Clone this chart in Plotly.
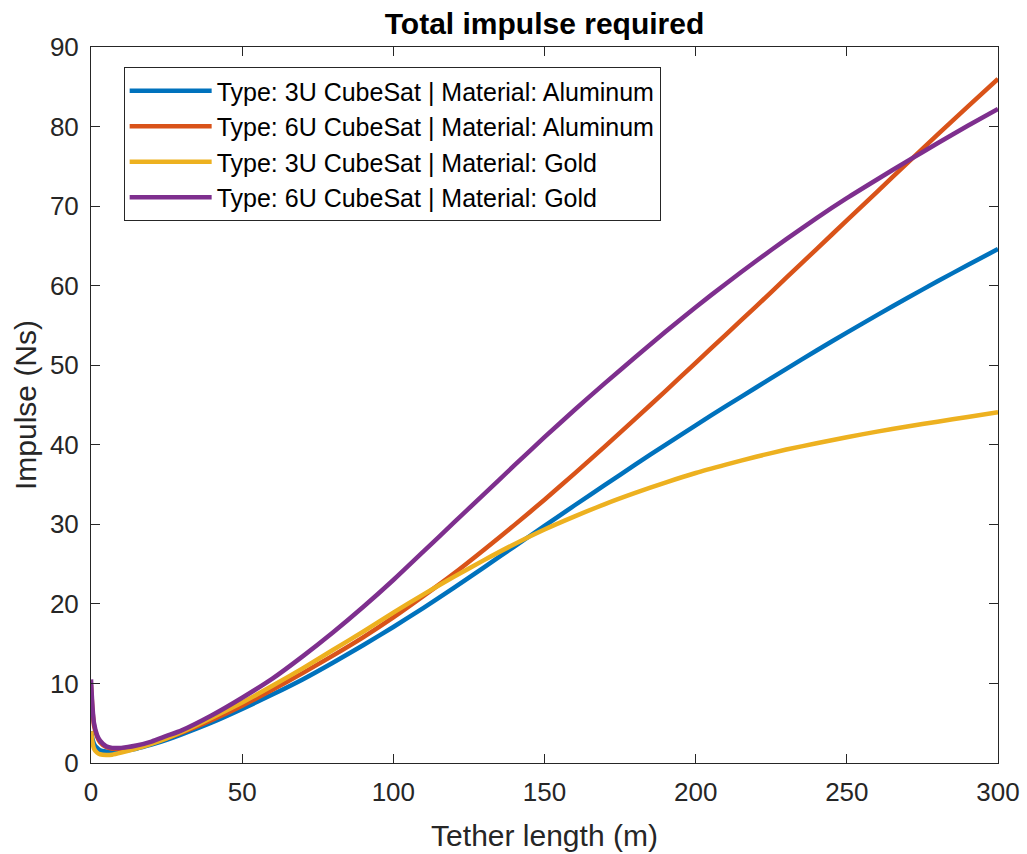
import plotly.graph_objects as go

tether_length = [0, 0.5, 1, 2, 3, 5, 7, 10, 15, 20, 25, 30, 40, 50, 60, 70, 80, 90, 100,
                 110, 120, 130, 140, 150, 160, 170, 180, 190, 200, 210, 220, 230, 240,
                 250, 260, 270, 280, 290, 300]

impulse_3u_al = [4.0, 3.0, 2.4, 1.9, 1.6, 1.45, 1.4, 1.5, 1.8, 2.3, 2.9, 3.6, 5.1, 6.8, 8.6,
                 10.5, 12.6, 14.8, 17.1, 19.5, 22.0, 24.6, 27.2, 29.8, 32.4, 34.95, 37.5,
                 40.0, 42.45, 44.85, 47.2, 49.55, 51.85, 54.1, 56.3, 58.45, 60.55, 62.6, 64.6]

impulse_6u_al = [9.8, 6.6, 4.7, 3.3, 2.6, 2.0, 1.8, 1.8, 2.0, 2.5, 3.1, 3.8, 5.4, 7.2, 9.2,
                 11.3, 13.5, 15.8, 18.3, 21.0, 23.8, 26.8, 29.9, 33.1, 36.4, 39.8, 43.25,
                 46.75, 50.3, 53.85, 57.4, 61.0, 64.6, 68.2, 71.8, 75.4, 79.0, 82.5, 86.0]

impulse_3u_au = [4.0, 2.6, 1.8, 1.3, 1.1, 1.0, 1.05, 1.3, 1.8, 2.4, 3.1, 3.9, 5.7, 7.6, 9.7,
                 11.9, 14.2, 16.5, 18.9, 21.2, 23.4, 25.5, 27.5, 29.35, 31.0, 32.55, 33.95,
                 35.25, 36.45, 37.5, 38.5, 39.4, 40.2, 40.95, 41.65, 42.3, 42.9, 43.5, 44.1]

impulse_6u_au = [10.5, 7.0, 5.0, 3.5, 2.8, 2.1, 1.9, 1.9, 2.2, 2.7, 3.4, 4.1, 6.0, 8.2, 10.6,
                 13.4, 16.4, 19.6, 23.0, 26.6, 30.2, 33.8, 37.4, 40.95, 44.4, 47.75, 51.0,
                 54.2, 57.3, 60.25, 63.1, 65.85, 68.5, 71.0, 73.35, 75.65, 77.9, 80.1, 82.2]

series_names = [
    "Type: 3U CubeSat | Material: Aluminum",
    "Type: 6U CubeSat | Material: Aluminum",
    "Type: 3U CubeSat | Material: Gold",
    "Type: 6U CubeSat | Material: Gold",
]
series_values = [impulse_3u_al, impulse_6u_al, impulse_3u_au, impulse_6u_au]
series_colors = ["#0072BD", "#D95319", "#EDB120", "#7E2F8E"]

x_ticks = [0, 50, 100, 150, 200, 250, 300]
y_ticks = [0, 10, 20, 30, 40, 50, 60, 70, 80, 90]

FONT = "Liberation Sans, Arial, Helvetica, sans-serif"
AXC = "#262626"

fig = go.Figure()
for name, vals, col in zip(series_names, series_values, series_colors):
    fig.add_trace(go.Scatter(
        x=tether_length, y=vals, mode="lines", name=name,
        line=dict(color=col, width=4.5, shape="spline", smoothing=0.6),
    ))

axis_common = dict(
    showline=True, linecolor=AXC, linewidth=1, mirror="ticks",
    ticks="inside", ticklen=9, tickwidth=1, tickcolor=AXC,
    showgrid=False, zeroline=False, automargin=False,
    ticklabelstandoff=6,
    tickfont=dict(family=FONT, size=26, color=AXC),
)

fig.update_layout(
    width=1027, height=854,
    margin=dict(l=91, r=29, t=47, b=91),
    paper_bgcolor="white", plot_bgcolor="white",
    title=dict(text="<b>Total impulse required</b>", x=0.5, xanchor="center",
               xref="paper", y=1 - 23 / 854, yanchor="middle",
               font=dict(family=FONT, size=30, color="black")),
    xaxis=dict(range=[0, 300], tickvals=x_ticks,
               title=dict(text="Tether length (m)", font=dict(family=FONT, size=30, color=AXC),
                          standoff=18),
               **axis_common),
    yaxis=dict(range=[0, 90], tickvals=y_ticks,
               title=dict(text="Impulse (Ns)", font=dict(family=FONT, size=30, color=AXC),
                          standoff=4),
               **axis_common),
    legend=dict(x=0.036, y=0.972, xanchor="left", yanchor="top",
                bgcolor="white", bordercolor=AXC, borderwidth=1,
                font=dict(family=FONT, size=25, color="black"),
                tracegroupgap=0, itemwidth=82),
    showlegend=True,
)

fig.write_html("out.html")
